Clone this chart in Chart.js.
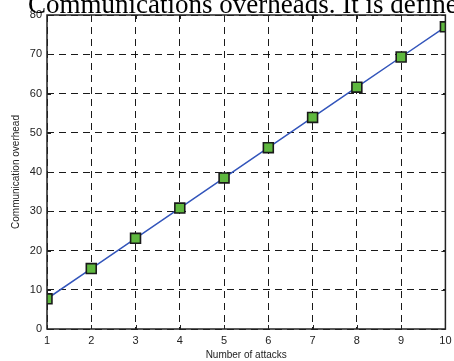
<!DOCTYPE html>
<html>
<head>
<meta charset="utf-8">
<script src="https://cdn.jsdelivr.net/npm/chart.js@4/dist/chart.umd.min.js"></script>
<style>
  html, body { margin: 0; padding: 0; background: #fff; }
  #wrap { position: relative; width: 454px; height: 361px; overflow: hidden; }
  #caption {
    position: absolute; left: 28px; top: -11px; white-space: nowrap;
    font-family: "Liberation Serif", "DejaVu Serif", serif; font-size: 27px; color: #000;
  }
</style>
</head>
<body>
<div id="wrap">
  <canvas id="lineChart" width="454" height="361"></canvas>
  <div id="caption">Communications overheads. It is defined</div>
</div>
<script>
'use strict';

// data
var attacks = [1, 2, 3, 4, 5, 6, 7, 8, 9, 10];
var overhead = [7.7, 15.4, 23.1, 30.8, 38.5, 46.2, 53.9, 61.6, 69.3, 77.0];
var yTicks = [0, 10, 20, 30, 40, 50, 60, 70, 80];

var points = attacks.map(function(a, i) {
  return { x: a, y: overhead[i] };
});

// matlab style box with inward ticks
var boxPlugin = {
  id: 'box',
  afterDraw: function(chart) {
    var ctx = chart.ctx;
    var a = chart.chartArea;
    var xs = chart.scales.x, ys = chart.scales.y;
    ctx.save();
    ctx.strokeStyle = '#222';
    ctx.lineWidth = 1.5;
    ctx.strokeRect(a.left, a.top, a.right - a.left, a.bottom - a.top);
    ctx.lineWidth = 1;
    ctx.beginPath();
    attacks.forEach(function(v) {
      var px = Math.round(xs.getPixelForValue(v)) + 0.5;
      ctx.moveTo(px, a.bottom); ctx.lineTo(px, a.bottom - 4);
      ctx.moveTo(px, a.top); ctx.lineTo(px, a.top + 4);
    });
    yTicks.forEach(function(v) {
      var py = Math.round(ys.getPixelForValue(v)) + 0.5;
      ctx.moveTo(a.left, py); ctx.lineTo(a.left + 4, py);
      ctx.moveTo(a.right, py); ctx.lineTo(a.right - 4, py);
    });
    ctx.stroke();
    ctx.restore();
  }
};

var ctx = document.getElementById('lineChart').getContext('2d');
var chart = new Chart(ctx, {
  type: 'line',
  data: {
    datasets: [{
      data: points,
      borderColor: '#3355bb',
      borderWidth: 1.5,
      pointStyle: 'rect',
      pointRadius: 7,
      pointBackgroundColor: '#5fb83f',
      pointBorderColor: '#1a1a1a',
      pointBorderWidth: 1.6,
      tension: 0
    }]
  },
  plugins: [boxPlugin],
  options: {
    responsive: false,
    animation: false,
    layout: { padding: { top: 15, right: 5, left: 10, bottom: 0 } },
    plugins: {
      legend: { display: false },
      tooltip: { enabled: false }
    },
    scales: {
      x: {
        type: 'linear',
        min: 1,
        max: 10,
        afterBuildTicks: function(scale) {
          scale.ticks = attacks.map(function(v) { return { value: v }; });
        },
        afterFit: function(scale) {
          scale.height = 32;
          scale.paddingLeft = 0;
          scale.paddingRight = 0;
        },
        border: { display: false, dash: [7, 5] },
        grid: { color: '#000', lineWidth: 0.9, drawTicks: false },
        ticks: {
          color: '#222',
          padding: 5,
          maxRotation: 0,
          font: { family: 'Liberation Sans', size: 11 }
        },
        title: {
          display: true,
          text: 'Number of attacks',
          color: '#222',
          padding: 0,
          font: { family: 'Liberation Sans', size: 10 }
        }
      },
      y: {
        min: 0,
        max: 80,
        afterBuildTicks: function(scale) {
          scale.ticks = yTicks.map(function(v) { return { value: v }; });
        },
        afterFit: function(scale) {
          scale.width = 37;
          scale.paddingTop = 0;
          scale.paddingBottom = 0;
        },
        border: { display: false, dash: [7, 5] },
        grid: { color: '#000', lineWidth: 0.9, drawTicks: false },
        ticks: {
          color: '#222',
          padding: 5,
          font: { family: 'Liberation Sans', size: 11 }
        },
        title: {
          display: true,
          text: 'Communication overhead',
          color: '#222',
          padding: 0,
          font: { family: 'Liberation Sans', size: 10 }
        }
      }
    }
  }
});
</script>
</body>
</html>
